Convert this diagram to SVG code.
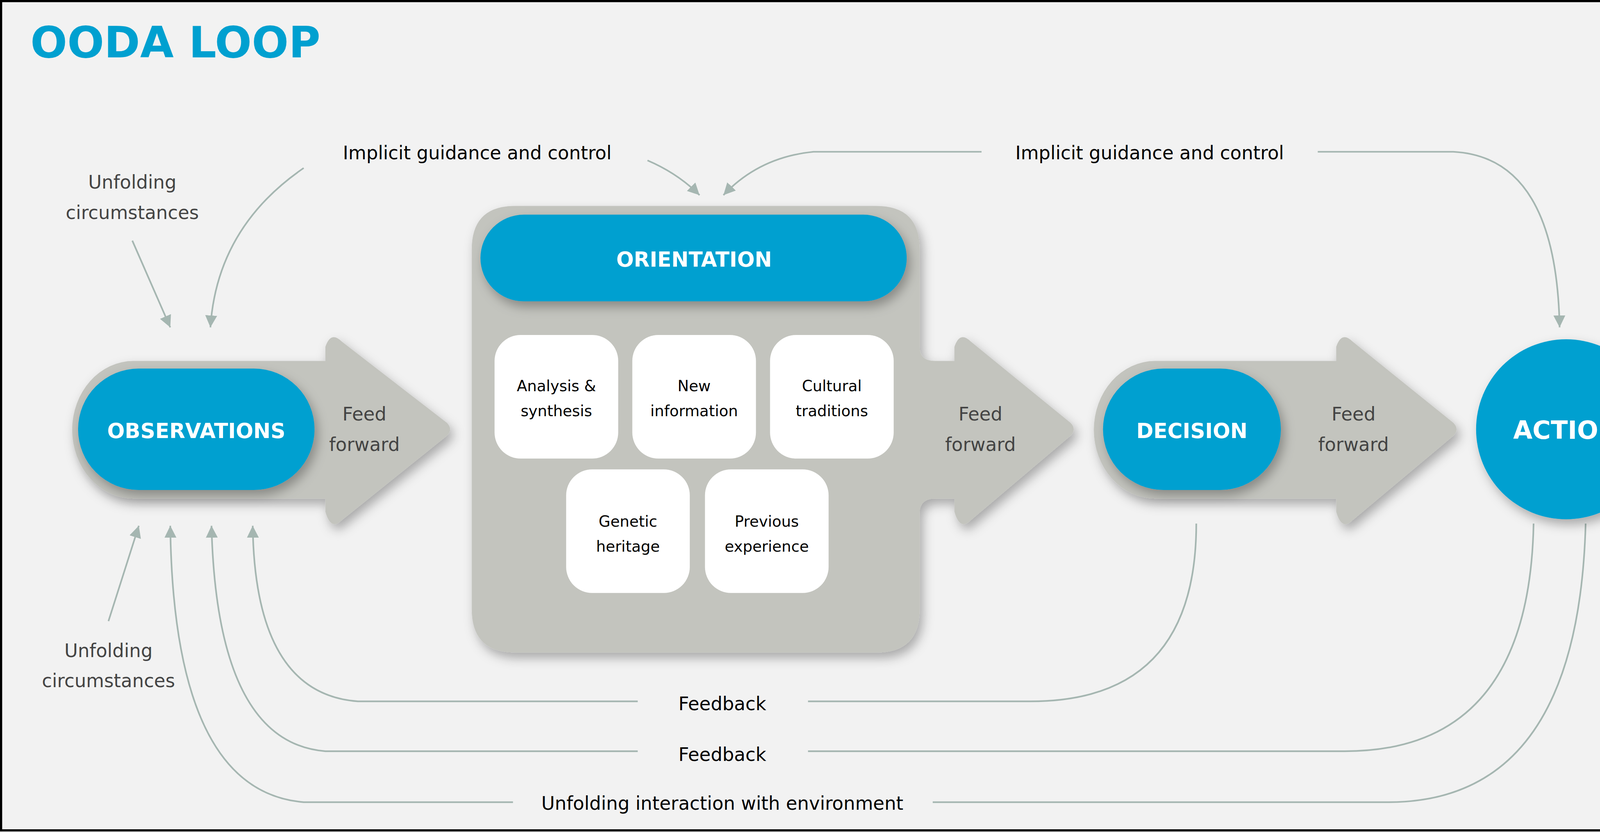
<svg xmlns="http://www.w3.org/2000/svg" width="4323" height="2131" viewBox="0 0 4323 2131">
<defs>
<style>
.t{font-family:"DejaVu Sans",Verdana,sans-serif;}
.lbl{font-size:17px;fill:#000;}
.g{font-size:17px;fill:#444;}
.w{font-size:14px;fill:#000;}
.b{font-weight:bold;fill:#fff;}
.c{fill:none;stroke:#a5b6b1;stroke-width:1.5;marker-end:url(#ah);}
.c2{fill:none;stroke:#a5b6b1;stroke-width:1.5;}
.grey{fill:#c3c4be;}
.blue{fill:#00a0d0;}
.box{fill:#fff;}
</style>
<marker id="ah" viewBox="0 0 10 10" refX="10" refY="5" markerWidth="11" markerHeight="11" markerUnits="userSpaceOnUse" orient="auto"><path d="M0,0 L10,5 L0,10 Z" fill="#a5b6b1" transform="scale(1)"/></marker>
<filter id="sh" x="-20%" y="-20%" width="150%" height="150%"><feDropShadow dx="3" dy="5" stdDeviation="5" flood-color="#000" flood-opacity="0.3"/></filter>
</defs>
<rect x="0" y="0" width="4323" height="2131" fill="#f2f2f2"/>
<g transform="scale(2.7765)">
<rect x="1" y="1" width="1555" height="765" fill="none" stroke="#000" stroke-width="2"/>
<text class="t" x="28" y="53" font-size="40" font-weight="bold" fill="#00a0d0">OODA LOOP</text>

<g id="connectors">
<path class="c" d="M122,222 L157,302"/>
<path class="c" d="M280,155 Q200,210 194,302"/>
<path class="c" d="M597,148 Q625,160 645,180"/>
<path class="c" d="M905,140 L750,140 Q700,145 667,180"/>
<path class="c" d="M1215,140 L1340,140 Q1435,145 1438,302"/>
<path class="c" d="M100,573 L128,485"/>
<path class="c2" d="M1103,483 Q1103,647 950,647 L745,647"/>
<path class="c" d="M588,647 L330,647 Q235,640 233,485"/>
<path class="c2" d="M1414,483 Q1410,693 1240,693 L745,693"/>
<path class="c" d="M588,693 L300,693 Q200,685 195,485"/>
<path class="c2" d="M1462,483 Q1455,740 1280,740 L860,740"/>
<path class="c" d="M473,740 L280,740 Q160,730 157,485"/>
</g>

<g id="observations">
<path class="grey" filter="url(#sh)" d="M123,333 L300,333 L300,320 Q305,305 315,315 L412,390 Q418,396 412,402 L315,480 Q305,490 300,472 L300,460 L123,460 A56,63 0 0 1 123,333 Z"/>
<rect class="blue" filter="url(#sh)" x="72" y="340" width="218" height="112" rx="56"/>
<text class="t b" x="181" y="404" font-size="19" text-anchor="middle">OBSERVATIONS</text>
<text class="t g" x="336" y="388" text-anchor="middle">Feed</text>
<text class="t g" x="336" y="416" text-anchor="middle">forward</text>
</g>

<g id="orientation">
<path class="grey" filter="url(#sh)" d="M475,190 L808,190 Q848,190 848,230 L848,320 Q848,333 862,333 L880,333 L880,320 Q885,305 895,315 L987,390 Q993,396 987,402 L895,480 Q885,490 880,472 L880,460 L862,460 Q848,460 848,473 L848,562 Q848,602 808,602 L475,602 Q435,602 435,562 L435,230 Q435,190 475,190 Z"/>
<rect class="blue" filter="url(#sh)" x="443" y="198" width="393" height="80" rx="40"/>
<text class="t b" x="640" y="246" font-size="19" text-anchor="middle">ORIENTATION</text>
<text class="t g" x="904" y="388" text-anchor="middle">Feed</text>
<text class="t g" x="904" y="416" text-anchor="middle">forward</text>
</g>
<g id="analysis"><rect class="box" x="456" y="309" width="114" height="114" rx="24"/><text class="t w" x="513" y="361" text-anchor="middle">Analysis &amp;</text><text class="t w" x="513" y="384" text-anchor="middle">synthesis</text></g>
<g id="newinfo"><rect class="box" x="583" y="309" width="114" height="114" rx="24"/><text class="t w" x="640" y="361" text-anchor="middle">New</text><text class="t w" x="640" y="384" text-anchor="middle">information</text></g>
<g id="cultural"><rect class="box" x="710" y="309" width="114" height="114" rx="24"/><text class="t w" x="767" y="361" text-anchor="middle">Cultural</text><text class="t w" x="767" y="384" text-anchor="middle">traditions</text></g>
<g id="genetic"><rect class="box" x="522" y="433" width="114" height="114" rx="24"/><text class="t w" x="579" y="486" text-anchor="middle">Genetic</text><text class="t w" x="579" y="509" text-anchor="middle">heritage</text></g>
<g id="previous"><rect class="box" x="650" y="433" width="114" height="114" rx="24"/><text class="t w" x="707" y="486" text-anchor="middle">Previous</text><text class="t w" x="707" y="509" text-anchor="middle">experience</text></g>

<g id="decision">
<path class="grey" filter="url(#sh)" d="M1065,333 L1232,333 L1232,320 Q1237,305 1247,315 L1340,390 Q1346,396 1340,402 L1247,480 Q1237,490 1232,472 L1232,460 L1065,460 A56,63 0 0 1 1065,333 Z"/>
<rect class="blue" filter="url(#sh)" x="1017" y="340" width="164" height="112" rx="56"/>
<text class="t b" x="1099" y="404" font-size="19" text-anchor="middle">DECISION</text>
<text class="t g" x="1248" y="388" text-anchor="middle">Feed</text>
<text class="t g" x="1248" y="416" text-anchor="middle">forward</text>
</g>

<g id="action">
<circle class="blue" filter="url(#sh)" cx="1444" cy="396" r="83"/>
<text class="t b" x="1444" y="405" font-size="23" text-anchor="middle">ACTION</text>
</g>

<g id="labels">
<text class="t g" x="122" y="174" text-anchor="middle">Unfolding</text>
<text class="t g" x="122" y="202" text-anchor="middle">circumstances</text>
<text class="t g" x="100" y="606" text-anchor="middle">Unfolding</text>
<text class="t g" x="100" y="634" text-anchor="middle">circumstances</text>
<text class="t lbl" x="440" y="147" text-anchor="middle">Implicit guidance and control</text>
<text class="t lbl" x="1060" y="147" text-anchor="middle">Implicit guidance and control</text>
<text class="t lbl" x="666" y="655" text-anchor="middle">Feedback</text>
<text class="t lbl" x="666" y="702" text-anchor="middle">Feedback</text>
<text class="t lbl" x="666" y="747" text-anchor="middle">Unfolding interaction with environment</text>
</g>
</g>
</svg>
